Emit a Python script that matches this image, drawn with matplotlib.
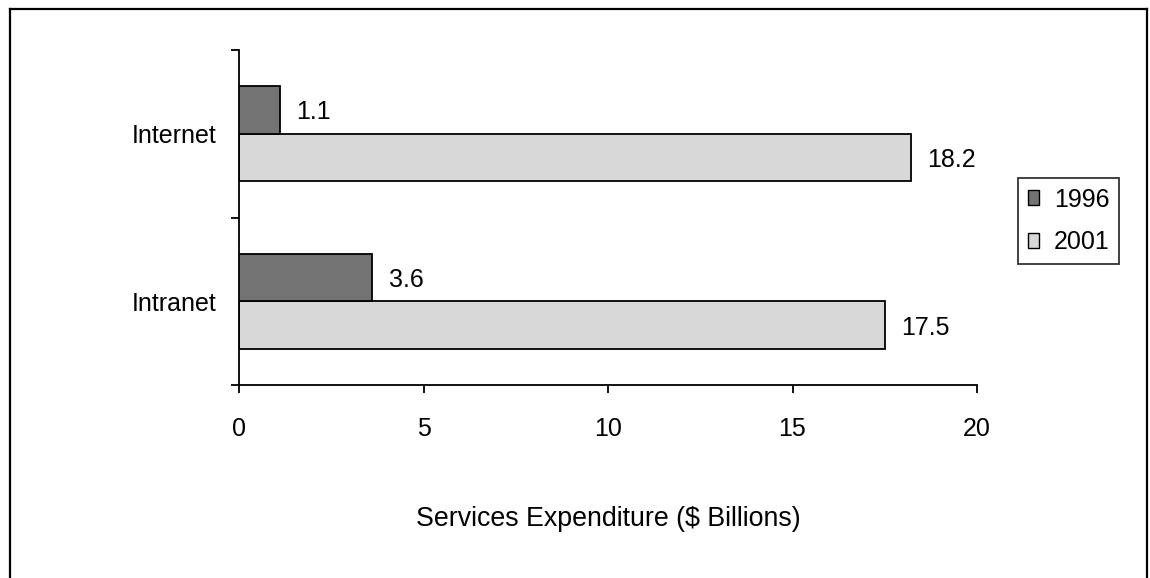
import matplotlib
matplotlib.use("Agg")
import matplotlib.pyplot as plt
from matplotlib.lines import Line2D
from matplotlib.patches import Patch

# Data
categories = ["Intranet", "Internet"]          # bottom to top
years = ["1996", "2001"]
values_1996 = [3.6, 1.1]
values_2001 = [17.5, 18.2]
x_ticks = [0, 5, 10, 15, 20]
x_label = "Services Expenditure ($ Billions)"

plt.rcParams["font.family"] = ["Liberation Sans", "DejaVu Sans"]
FS = 18

fig = plt.figure(figsize=(11.5, 5.78), dpi=100)
fig.patch.set_facecolor("white")
ax = fig.add_axes([239 / 1150, 1 - 385 / 578, (977 - 239) / 1150, (385 - 50) / 578])

bar_h = 0.285
pos = list(range(len(categories)))
pos_1996 = [p + bar_h / 2 for p in pos]
pos_2001 = [p - bar_h / 2 for p in pos]

colors = {"1996": "#737373", "2001": "#d8d8d8"}
b1 = ax.barh(pos_1996, values_1996, height=bar_h, color=colors["1996"],
             edgecolor="black", linewidth=1.3, zorder=3)
b2 = ax.barh(pos_2001, values_2001, height=bar_h, color=colors["2001"],
             edgecolor="black", linewidth=1.3, zorder=2)

for ys, vals in ((pos_1996, values_1996), (pos_2001, values_2001)):
    for y, v in zip(ys, vals):
        ax.annotate(f"{v:.1f}", xy=(v, y), xytext=(12, 0),
                    textcoords="offset points", ha="left", va="center_baseline",
                    fontsize=FS, color="black")

ax.set_xlim(0, 20)
ax.set_ylim(-0.5, 1.5)

for side in ("top", "right"):
    ax.spines[side].set_visible(False)
for side in ("left", "bottom"):
    ax.spines[side].set_linewidth(1.3)

ax.set_xticks(x_ticks)
ax.set_xticklabels([str(t) for t in x_ticks], fontsize=FS)
ax.tick_params(axis="x", direction="out", length=6, width=1.3, pad=17)

# Category separators as major ticks, names as minor tick labels
ax.set_yticks([-0.5, 0.5, 1.5])
ax.set_yticklabels([])
ax.tick_params(axis="y", which="major", direction="out", length=5.5, width=1.3)
ax.set_yticks(pos, minor=True)
ax.set_yticklabels(categories, minor=True, fontsize=FS)
ax.tick_params(axis="y", which="minor", length=0, pad=16)

ax.set_xlabel(x_label, fontsize=19.3, labelpad=47)

handles = [Patch(facecolor=colors[y], edgecolor="black", linewidth=1.0) for y in years]
leg = fig.legend(handles, years, loc="upper left",
                 bbox_to_anchor=(1018 / 1150, 1 - 178 / 578),
                 bbox_transform=fig.transFigure, fontsize=FS,
                 frameon=True, fancybox=False, edgecolor="black",
                 handlelength=0.45, handleheight=0.55, handletextpad=0.6,
                 labelspacing=0.75, borderpad=0.38, borderaxespad=0)
leg.get_frame().set_linewidth(1.3)

# Outer chart border (bottom edge runs off the canvas)
lw = 1.6
x0, x1 = 10 / 1150, 1147 / 1150
yt = 1 - 9 / 578
fig.add_artist(Line2D([x0, x0], [-0.05, yt], transform=fig.transFigure, color="black", lw=lw))
fig.add_artist(Line2D([x0, x1], [yt, yt], transform=fig.transFigure, color="black", lw=lw))
fig.add_artist(Line2D([x1, x1], [-0.05, yt], transform=fig.transFigure, color="black", lw=lw))

fig.savefig("out.png", dpi=100, facecolor="white")
